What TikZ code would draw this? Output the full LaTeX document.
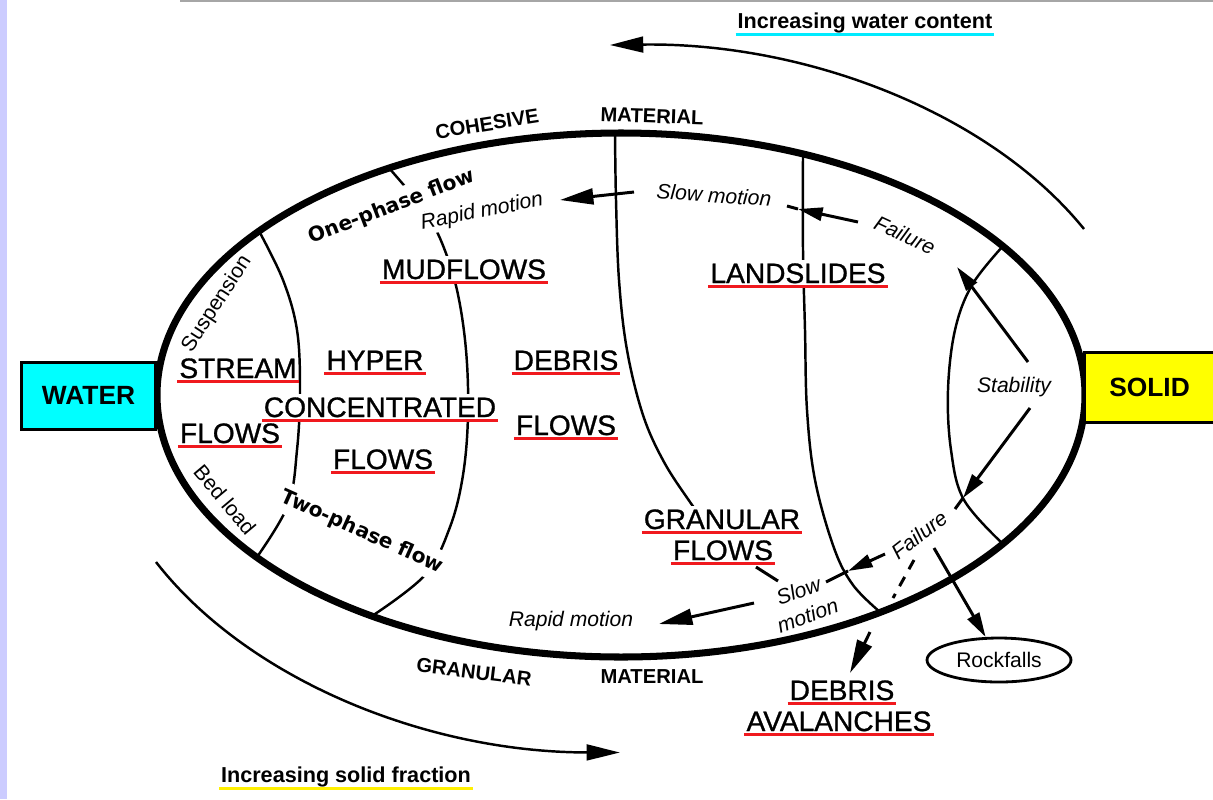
\documentclass[tikz,border=0pt]{standalone}
\usepackage{fontspec}
\setmainfont{Liberation Sans}
\newfontfamily\phasefont{DejaVu Sans}
\newfontfamily\flowfont{Liberation Sans}[FakeBold=1]
\usetikzlibrary{arrows.meta, shapes.geometric}

\definecolor{lavstrip}{RGB}{204,204,255}
\definecolor{ulred}{RGB}{240,25,30}
\definecolor{ulcyan}{RGB}{0,235,255}
\definecolor{ulyel}{RGB}{255,240,0}
\definecolor{watercyan}{RGB}{0,255,255}
\definecolor{solidyel}{RGB}{255,255,0}

\tikzset{
  rim/.style     = {line width=4pt},
  zone/.style    = {line width=1.4pt},
  link/.style    = {line width=1.7pt},
  arr/.style     = {line width=1.7pt, -{Triangle[length=14pt, width=7.5pt]}},
  bigarr/.style  = {line width=1.7pt, -{Triangle[length=19pt, width=9pt]}},
  sweep/.style   = {line width=1.4pt, -{Triangle[length=19pt, width=9pt]}},
  redline/.style = {append after command={([yshift=-2.2pt]\tikzlastnode.base west) edge[draw=ulred, line width=1.6pt] ([yshift=-2.2pt]\tikzlastnode.base east)}},
  trendline/.style = {append after command={([yshift=-3.6pt]\tikzlastnode.base west) edge[draw=#1, line width=1.7pt] ([yshift=-3.6pt]\tikzlastnode.base east)}},
  flow/.style    = {fill=white, inner xsep=1pt, inner ysep=2pt, anchor=base, redline, font=\flowfont\fontsize{16}{18}\selectfont},
  matl/.style    = {inner sep=1pt, font=\bfseries\fontsize{11.5}{13}\selectfont},
  mot/.style     = {fill=white, inner sep=1pt, font=\itshape\fontsize{12}{13}\selectfont},
  phase/.style   = {fill=white, inner xsep=1pt, inner ysep=3.5pt, font=\phasefont\bfseries\fontsize{11.5}{13}\selectfont},
  edgelbl/.style = {inner sep=1pt, font=\fontsize{12}{13}\selectfont},
  trend/.style   = {anchor=base, inner sep=1pt, font=\bfseries\fontsize{12.3}{14}\selectfont},
  endbox/.style  = {rectangle, font=\bfseries\fontsize{15}{17}\selectfont},
  rockbox/.style = {ellipse, draw, line width=1.6pt, minimum width=2.88cm, minimum height=0.88cm, inner sep=0pt, font=\fontsize{12}{14}\selectfont}
}

\begin{document}
\begin{tikzpicture}[x=0.02cm, y=-0.02cm]

  \useasboundingbox (0,0) rectangle (1213,799);
  \fill[lavstrip] (0,0) rectangle (7,799);
  \draw[gray!70, line width=1.2pt] (180,1) -- (1213,1);

  % ---------- zone boundaries ----------
  \draw[zone] plot[smooth, tension=0.6] coordinates {(259,231) (283,280) (297,330) (300,390) (297,450) (288,505) (257,557)};
  \draw[zone] plot[smooth, tension=0.6] coordinates {(389,168) (408,190) (425,211) (442,243) (457,290) (466,350) (468,415) (463,475) (450,527) (425,575) (372,616)};
  \draw[zone] plot[smooth, tension=0.6] coordinates {(615,133) (616,200) (619,280) (627,350) (643,415) (664,462) (690,502) (700,515)};
  \draw[zone] plot[smooth, tension=0.6] coordinates {(803,154) (803,250) (805,330) (807,410) (815,480) (834,548) (853,585) (880,612)};
  \draw[zone] plot[smooth, tension=0.6] coordinates {(1003,246) (972,285) (955,330) (948,390) (951,450) (964,500) (1003,544)};

  % ---------- trend arrows ----------
  \draw[sweep] (1084,229) arc[start angle=-28.3, end angle=-91.2, x radius=526, y radius=350];
  \draw[sweep] (156,562) arc[start angle=152.1, end angle=90.1, x radius=526, y radius=358];
  \node[trend, trendline=ulcyan] (incw) at (865,28) {Increasing water content};
  \node[trend, trendline=ulyel]  (incs) at (346,782) {Increasing solid fraction};

  % ---------- flow types ----------
  \node[flow] (stream) at (238,378) {STREAM};
  \node[flow] (flowsL) at (230,443) {FLOWS};
  \node[flow] (hyper)  at (375,370) {HYPER};
  \node[flow] (conc)   at (380,417) {CONCENTRATED};
  \node[flow] (flowsM) at (383,469) {FLOWS};
  \node[flow] (debris) at (566,370) {DEBRIS};
  \node[flow] (flowsR) at (566,435) {FLOWS};
  \node[flow] (mud)    at (464,279) {MUDFLOWS};
  \node[flow] (land)   at (798,283) {LANDSLIDES};
  \node[flow] (gran)   at (722,529) {GRANULAR};
  \node[flow] (gfl)    at (723,560) {FLOWS};
  \node[flow] (deb2)   at (842,700) {DEBRIS};
  \node[flow] (aval)   at (839,731) {AVALANCHES};

  % ---------- material and phase labels ----------
  \node[matl, rotate=9]  (coh)   at (487,124) {COHESIVE};
  \node[matl, rotate=-2] (matT)  at (652,116) {MATERIAL};
  \node[matl, rotate=-7] (granB) at (474,672) {GRANULAR};
  \node[matl]            (matB)  at (652,677) {MATERIAL};
  \node[phase, rotate=21]  (one) at (392,207) {One-phase flow};
  \node[phase, rotate=-24] (two) at (362,532) {Two-phase flow};
  \node[edgelbl, rotate=57]  (susp) at (217,304) {Suspension};
  \node[edgelbl, rotate=-50] (bed)  at (225,500) {Bed load};

  % ---------- motion labels ----------
  \node[mot, rotate=11]  (rapT)  at (482,212) {Rapid motion};
  \node[mot, rotate=-4]  (slowT) at (714,195) {Slow motion};
  \node[mot, rotate=-25] (failT) at (905,235) {Failure};
  \node[mot]             (stab)  at (1014,387) {Stability};
  \node[mot, rotate=38]  (failB) at (919,535) {Failure};
  \node[mot, rotate=20, align=center, font=\itshape\fontsize{12}{15}\selectfont] (slowB) at (803,603) {Slow\\motion};
  \node[mot]             (rapB)  at (571,621) {Rapid motion};
  \node[rockbox]         (rock)  at (999,660) {Rockfalls};

  % ---------- motion arrows ----------
  \coordinate (sm1) at (634,192);  \coordinate (rm1) at (560,200);
  \draw[bigarr] (sm1) -- (rm1);
  \coordinate (fa1) at (858,222);  \coordinate (fa1t) at (798,209); \coordinate (fa1x) at (787,206);
  \draw[link] (fa1t) -- (fa1x);   \draw[arr] (fa1) -- (fa1t);
  \coordinate (st1) at (1028,362); \coordinate (st1t) at (957,267);
  \draw[arr] (st1) -- (st1t);
  \coordinate (st2) at (1030,408); \coordinate (st2t) at (963,498); \coordinate (st2x) at (955,509);
  \draw[link] (st2t) -- (st2x);   \draw[arr] (st2) -- (st2t);
  \coordinate (fb1) at (885,554);  \coordinate (fb1t) at (848,571); \coordinate (fb1x) at (826,582);
  \draw[link] (fb1t) -- (fb1x);   \draw[arr] (fb1) -- (fb1t);
  \coordinate (dv1) at (914,560);  \coordinate (dv2) at (893,598);
  \draw[link, dash pattern=on 6pt off 5pt] (dv1) -- (dv2);
  \coordinate (dv3) at (870,632);  \coordinate (dv4) at (850,673);
  \draw[bigarr] (dv3) -- (dv4);
  \coordinate (rk1) at (934,548);
  \draw[arr] (rk1) -- (rock);
  \coordinate (sm2) at (754,603);  \coordinate (rm2) at (659,624);
  \draw[bigarr] (sm2) -- (rm2);
  \coordinate (ld1) at (756,567);  \coordinate (ld2) at (778,581);
  \draw[link] (ld1) -- (ld2);

  % ---------- outline and ends ----------
  \draw[rim] (621,395) ellipse [x radius=464, y radius=262];
  \node[endbox, draw, line width=1.7pt, fill=watercyan, minimum width=2.7cm, minimum height=1.34cm] (water) at (88.5,395.5) {WATER};
  \node[endbox, fill=solidyel, minimum width=2.6cm, minimum height=1.38cm] (solid) at (1149.5,387.5) {SOLID};
  \draw[line width=1.7pt] (solid.north east) -- (solid.north west) -- (solid.south west) -- (solid.south east);

\end{tikzpicture}
\end{document}
